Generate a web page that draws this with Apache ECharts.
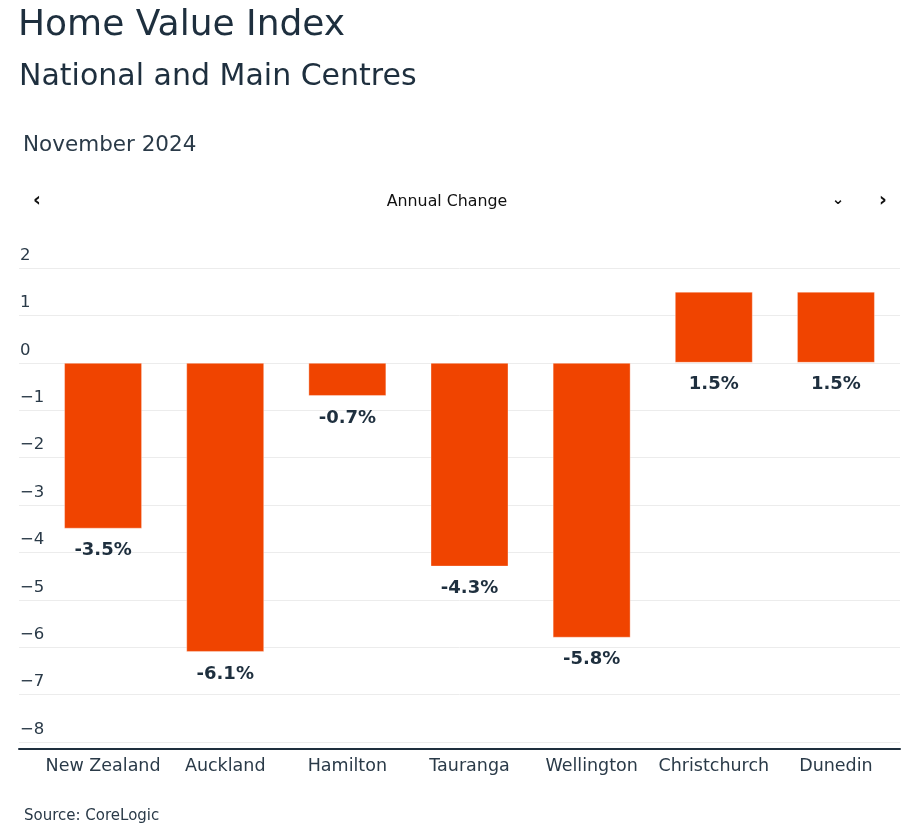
<!DOCTYPE html>
<html>
<head>
<meta charset="utf-8">
<script src="https://cdn.jsdelivr.net/npm/echarts@6/dist/echarts.min.js"></script>
<style>
html,body{margin:0;padding:0;background:#fff;}
#chart{width:906px;height:827px;}
</style>
</head>
<body>
<div id="chart"></div>
<script>
const categories = ['New Zealand','Auckland','Hamilton','Tauranga','Wellington','Christchurch','Dunedin'];
const annualChange = [-3.5, -6.1, -0.7, -4.3, -5.8, 1.5, 1.5];
const yMin = -8, yMax = 2, yStep = 1;

const FONT = '"DejaVu Sans", "Open Sans", sans-serif';
const DARK = '#1e2f3e';

const chart = echarts.init(document.getElementById('chart'), null, {renderer:'canvas'});
chart.setOption({
  animation: false,
  backgroundColor: '#fff',
  textStyle: {fontFamily: FONT},
  title: [
    {text: 'Home Value Index', left: 13, top: 3, textStyle: {fontFamily: FONT, fontSize: 36, fontWeight: 'normal', color: DARK}},
    {text: 'National and Main Centres', left: 14, top: 57, textStyle: {fontFamily: FONT, fontSize: 30, fontWeight: 'normal', color: DARK}},
    {text: 'November 2024', left: 18, top: 129, textStyle: {fontFamily: FONT, fontSize: 21.5, fontWeight: 'normal', color: '#2a3a48'}},
    {text: 'Source: CoreLogic', left: 19, top: 804, textStyle: {fontFamily: FONT, fontSize: 15, fontWeight: 'normal', color: '#2a3a48'}}
  ],
  graphic: [
    {type: 'text', x: 37, y: 201, style: {text: '‹', font: 'bold 19px ' + FONT, fill: '#111', align: 'center', verticalAlign: 'middle'}},
    {type: 'text', x: 447, y: 202, style: {text: 'Annual Change', font: '15.8px ' + FONT, fill: '#111', align: 'center', verticalAlign: 'middle'}},
    {type: 'text', x: 838, y: 200, style: {text: '⌄', font: 'bold 15px ' + FONT, fill: '#111', align: 'center', verticalAlign: 'middle'}},
    {type: 'text', x: 883, y: 201, style: {text: '›', font: 'bold 19px ' + FONT, fill: '#111', align: 'center', verticalAlign: 'middle'}}
  ],
  grid: [
    {left: 19, right: 6, top: 268, height: 474},
    {left: 42, right: 9, top: 268, height: 474}
  ],
  xAxis: [
    {type: 'value', gridIndex: 0, min: 0, max: 1, offset: 7,
     axisLine: {show: true, onZero: false, lineStyle: {color: DARK, width: 2}},
     axisTick: {show: false}, axisLabel: {show: false}, splitLine: {show: false}},
    {type: 'category', gridIndex: 1, data: categories,
     axisLine: {show: false}, axisTick: {show: false},
     axisLabel: {interval: 0, fontFamily: FONT, fontSize: 17.5, color: '#2a3a48', margin: 15}}
  ],
  yAxis: [
    {type: 'value', gridIndex: 0, min: yMin, max: yMax, interval: yStep,
     axisLine: {show: false}, axisTick: {show: false},
     splitLine: {show: true, lineStyle: {color: '#ececec', width: 1}},
     axisLabel: {inside: true, margin: 1, align: 'left', verticalAlign: 'bottom', padding: [0,0,4,0],
       fontFamily: FONT, fontSize: 16.5, color: '#2a3a48',
       formatter: v => String(v).replace('-', '\u2212')}},
    {type: 'value', gridIndex: 1, min: yMin, max: yMax, interval: yStep, show: false,
     splitLine: {show: false}}
  ],
  series: [{
    type: 'bar', xAxisIndex: 1, yAxisIndex: 1, data: annualChange, barWidth: 78,
    itemStyle: {color: '#F04400', borderColor: 'rgba(255,255,255,0.35)', borderWidth: 1},
    label: {show: true, position: 'bottom', distance: 13, formatter: p => p.value + '%',
      fontFamily: FONT, fontSize: 18, fontWeight: 'bold', color: DARK}
  }]
});
</script>
</body>
</html>
